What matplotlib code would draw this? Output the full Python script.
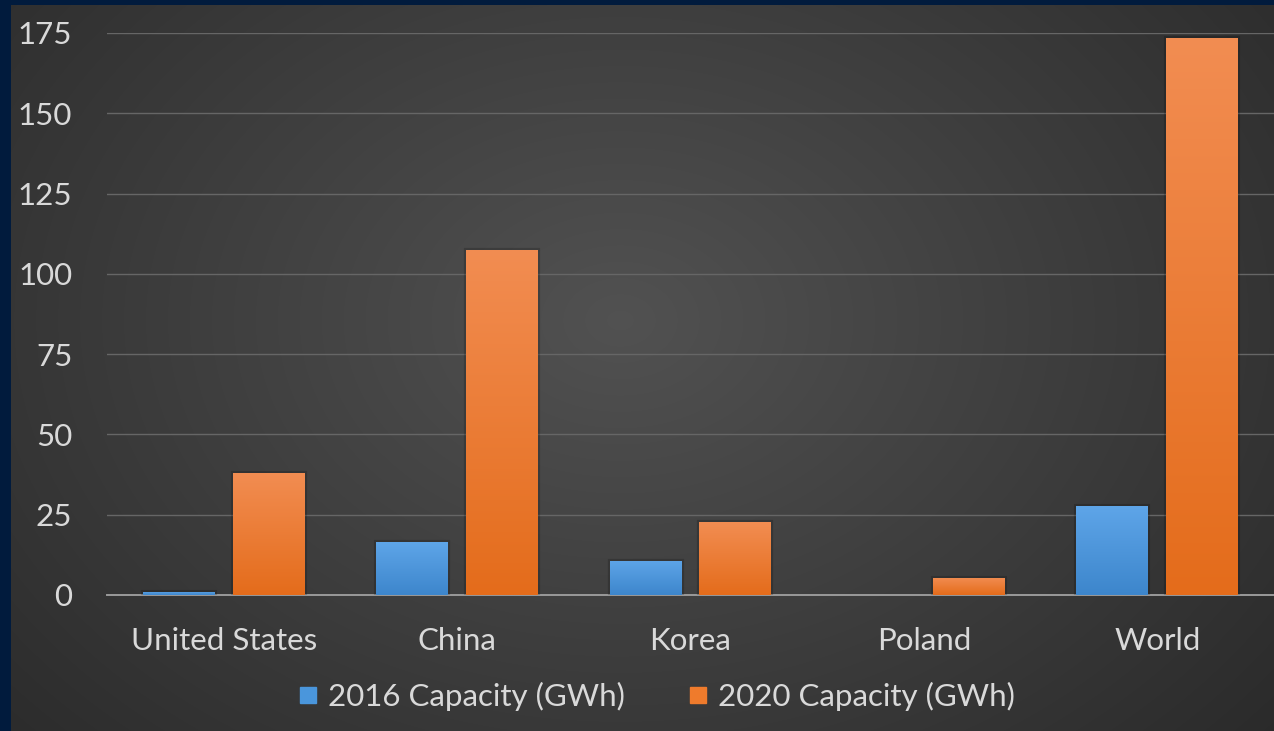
import numpy as np
import matplotlib
matplotlib.use("Agg")
import matplotlib.pyplot as plt
import matplotlib.patheffects as pe
from matplotlib.lines import Line2D
from matplotlib.colors import LinearSegmentedColormap

categories = ["United States", "China", "Korea", "Poland", "World"]
cap_2016 = [1.0, 16.5, 10.6, 0.0, 27.7]
cap_2020 = [38.0, 107.5, 22.7, 5.3, 173.5]
series_labels = ["2016 Capacity (GWh)", "2020 Capacity (GWh)"]
yticks = [0, 25, 50, 75, 100, 125, 150, 175]

W, H = 1274, 731
fig = plt.figure(figsize=(W / 100, H / 100), dpi=100)
plt.rcParams['font.family'] = ['Lato', 'DejaVu Sans']
TXT = '#d9d9d9'
FS = 22.5

# background radial gradient
bg = fig.add_axes([0, 0, 1, 1])
bg.set_axis_off()
yy, xx = np.mgrid[0:H, 0:W]
r = np.sqrt(((xx - 620) / 700) ** 2 + ((yy - 320) / 520) ** 2)
val = 0.32 - 0.15 * np.clip(r / 1.2, 0, 1.1)
img = np.dstack([val, val, val])
bg.imshow(img, extent=[0, W, H, 0], aspect='auto', interpolation='bilinear')
bg.set_xlim(0, W)
bg.set_ylim(H, 0)
navy = '#011b3d'
bg.add_patch(plt.Rectangle((0, 0), W, 5, color=navy, lw=0))
bg.add_patch(plt.Rectangle((0, 0), 11, H, color=navy, lw=0))

ax = fig.add_axes([107 / W, 1 - 595 / H, (W - 107) / W, (595 - 33) / H])
ax.patch.set_alpha(0)
ax.set_ylim(0, 175)
ax.set_xlim(-0.5, len(categories) - 0.5)
for s in ['top', 'right', 'left']:
    ax.spines[s].set_visible(False)
ax.spines['bottom'].set_color('#9a9a9a')
ax.spines['bottom'].set_linewidth(1.4)
ax.set_yticks(yticks)
ax.set_yticklabels([str(t) for t in yticks])
ax.yaxis.grid(True, color='#666666', linewidth=1.0)
ax.set_axisbelow(True)
ax.tick_params(axis='y', length=0, pad=25, labelsize=FS, labelcolor=TXT)
ax.tick_params(axis='x', length=0, pad=23, labelsize=FS, labelcolor=TXT)
x = np.arange(len(categories))
ax.set_xticks(x)
ax.set_xticklabels(categories)

bw = 0.308
off = 0.1925
blue_cm = LinearSegmentedColormap.from_list('b', ['#3d86cc', '#5ea5e8'])
orange_cm = LinearSegmentedColormap.from_list('o', ['#e46c1b', '#f28d52'])
grad = np.linspace(0, 1, 256).reshape(-1, 1)

def draw(vals, dx, cmap, color):
    bars = ax.bar(x + dx, vals, width=bw, color=color, linewidth=0, zorder=3)
    for b, v in zip(bars, vals):
        if v <= 0:
            b.set_visible(False)
            continue
        b.set_path_effects([pe.Stroke(linewidth=3, foreground=(0, 0, 0, 0.18)), pe.Normal()])
        x0 = b.get_x()
        im = ax.imshow(grad, cmap=cmap, extent=[x0, x0 + bw, 0, v], origin='lower',
                       aspect='auto', zorder=4, interpolation='bilinear')
        im.set_clip_path(b)
    return bars

draw(cap_2016, -off, blue_cm, '#4a93d8')
draw(cap_2020, off, orange_cm, '#ec7b35')
ax.set_xlim(-0.5, len(categories) - 0.5)
ax.set_ylim(0, 175)

handles = [Line2D([], [], marker='s', linestyle='none', markersize=12, color='#4a96dc'),
           Line2D([], [], marker='s', linestyle='none', markersize=12, color='#ef7b2c')]
leg = fig.legend(handles, series_labels, loc='center', bbox_to_anchor=(656 / W, 1 - 696 / H),
                 ncol=2, frameon=False, fontsize=FS, handlelength=0.7, handletextpad=0.3,
                 columnspacing=2.0, borderpad=0)
for t in leg.get_texts():
    t.set_color(TXT)

fig.savefig('out.png', dpi=100)
